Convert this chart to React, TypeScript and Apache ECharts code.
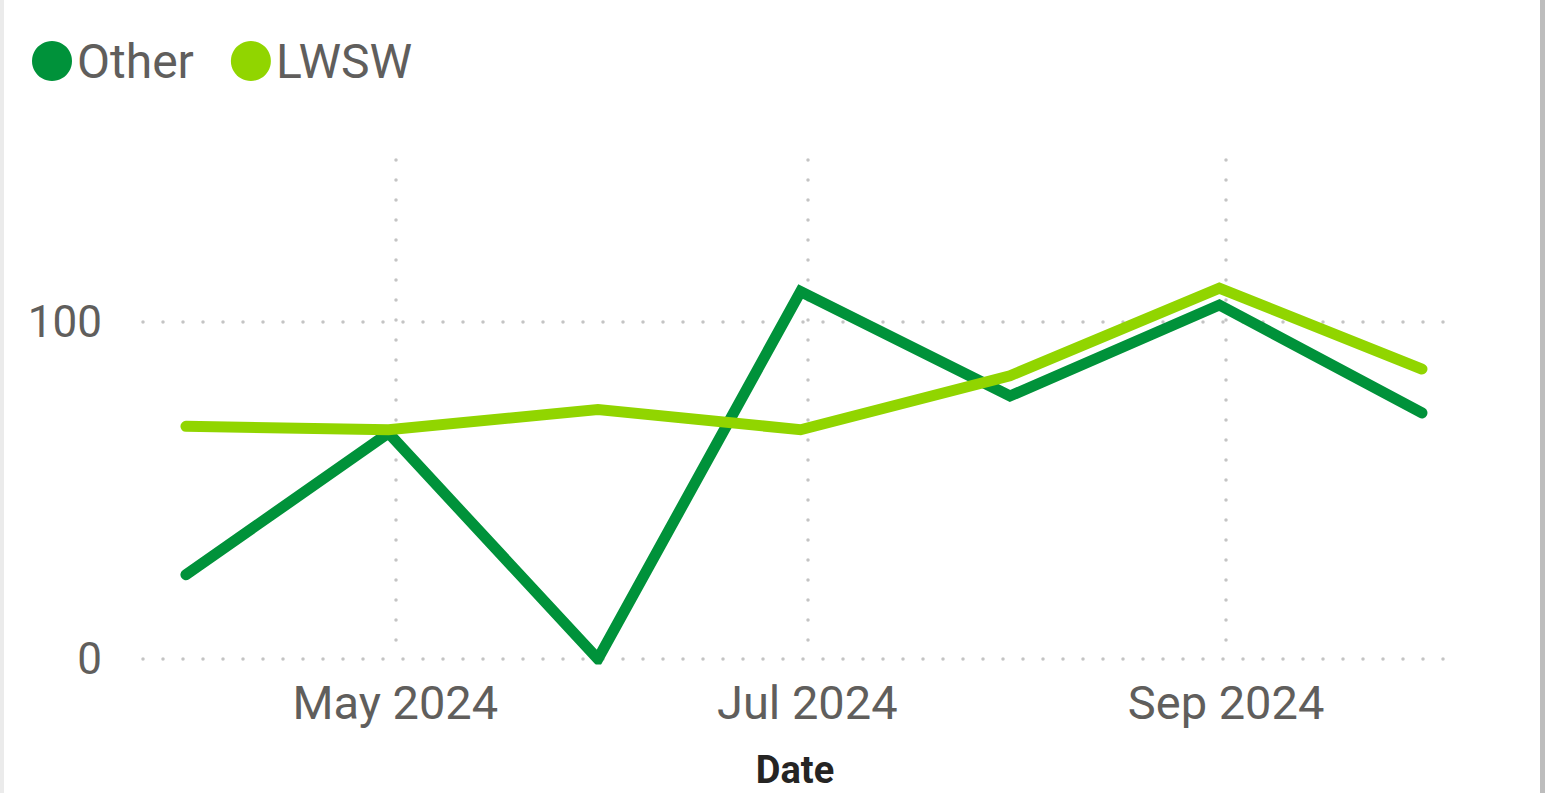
import React, { useEffect, useRef } from "react";
import * as echarts from "echarts";

// ---- data ----
const dates: string[] = [
  "2024-03-31",
  "2024-04-30",
  "2024-05-31",
  "2024-06-30",
  "2024-07-31",
  "2024-08-31",
  "2024-09-30",
];
const otherValues: number[] = [25, 67, 0, 109, 78, 105, 73];
const lwswValues: number[] = [69, 68, 74, 68, 84, 110, 86];
const xTickDates: string[] = ["2024-05-01", "2024-07-01", "2024-09-01"];
const yTicks: number[] = [0, 100];
const seriesNames = ["Other", "LWSW"];
const xAxisName = "Date";
const xMin = "2024-03-24 15:30";
const xMax = "2024-10-03 17:00";
const yMax = 148;

const MONTHS = ["Jan", "Feb", "Mar", "Apr", "May", "Jun", "Jul", "Aug", "Sep", "Oct", "Nov", "Dec"];

function toTime(s: string): number {
  const [datePart, timePart] = s.split(" ");
  const [y, m, d] = datePart.split("-").map(Number);
  let hh = 0, mm = 0;
  if (timePart) {
    [hh, mm] = timePart.split(":").map(Number);
  }
  return new Date(y, m - 1, d, hh, mm).getTime();
}

export default function App() {
  const ref = useRef<HTMLDivElement>(null);

  useEffect(() => {
    if (!ref.current) return;
    const chart = echarts.init(ref.current, undefined, { renderer: "svg" });
    const font = "Roboto";
    const dotted = { color: "#C4C4C4", width: 3.5, type: [0.001, 19.999] as number[], cap: "round" as const };
    const xTicks = xTickDates.map(toTime);

    try {
      chart.setOption({
        animation: false,
        backgroundColor: "#FFFFFF",
        textStyle: { fontFamily: font },
        legend: {
          left: 27,
          top: 32,
          itemWidth: 40,
          itemHeight: 40,
          itemGap: 37,
          icon: "circle",
          data: seriesNames,
          textStyle: { color: "#605E5C", fontSize: 48, fontFamily: font },
        },
        grid: {
          left: 143,
          right: 98,
          top: 160,
          bottom: 134,
          containLabel: false,
          outerBoundsMode: "none",
        },
        xAxis: {
          type: "value",
          min: toTime(xMin),
          max: toTime(xMax),
          name: xAxisName,
          nameLocation: "middle",
          nameGap: 92,
          nameTextStyle: { color: "#252423", fontSize: 38, fontWeight: "bold", fontFamily: font },
          axisLine: { show: false },
          axisTick: { show: false, customValues: xTicks },
          axisLabel: {
            customValues: xTicks,
            color: "#605E5C",
            fontSize: 47,
            margin: 20,
            fontFamily: font,
            formatter: (v: number) => {
              const d = new Date(v);
              return `${MONTHS[d.getMonth()]} ${d.getFullYear()}`;
            },
          },
          splitLine: { show: true, lineStyle: dotted },
        },
        yAxis: {
          type: "value",
          min: 0,
          max: yMax,
          axisLine: { show: false },
          axisTick: { show: false, customValues: yTicks },
          axisLabel: {
            customValues: yTicks,
            color: "#605E5C",
            fontSize: 44,
            margin: 41,
            fontFamily: font,
          },
          splitLine: { show: true, lineStyle: dotted },
        },
        series: [
          {
            name: seriesNames[0],
            type: "line",
            data: dates.map((d, i) => [toTime(d), otherValues[i]]),
            showSymbol: false,
            color: "#00923A",
            lineStyle: { width: 11, color: "#00923A", cap: "round", join: "miter" },
            z: 2,
          },
          {
            name: seriesNames[1],
            type: "line",
            data: dates.map((d, i) => [toTime(d), lwswValues[i]]),
            showSymbol: false,
            color: "#91D500",
            lineStyle: { width: 11, color: "#91D500", cap: "round", join: "miter" },
            z: 3,
          },
        ],
      });
    } catch (e) {
      console.error(e);
    }

    return () => {
      chart.dispose();
    };
  }, []);

  return (
    <div style={{ position: "fixed", left: 0, top: 0, width: 1545, height: 793, background: "#fff" }}>
      <div ref={ref} style={{ position: "absolute", left: 0, top: 0, width: 1545, height: 793 }} />
      <div style={{ position: "absolute", left: 0, top: 0, width: 4, height: 793, background: "#EBEBEB" }} />
      <div style={{ position: "absolute", left: 1540, top: 0, width: 5, height: 793, background: "#BDBDBD" }} />
    </div>
  );
}
